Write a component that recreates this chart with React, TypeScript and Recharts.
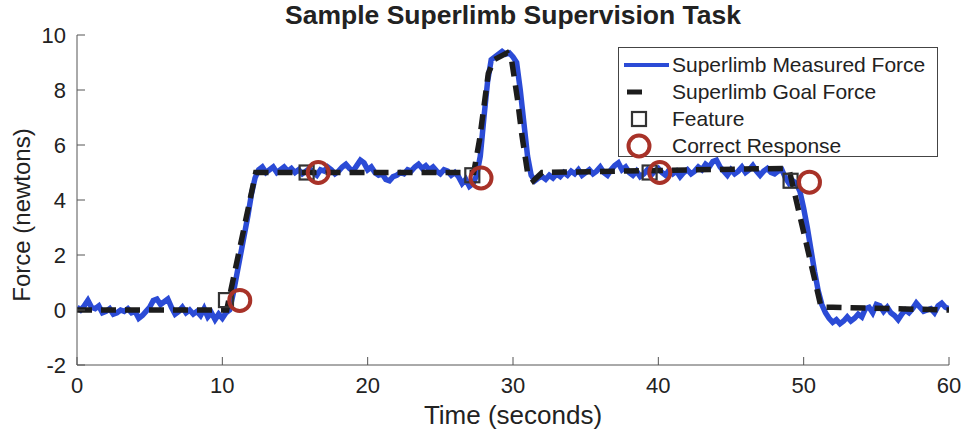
import { ComposedChart, Line, Scatter, XAxis, YAxis, Legend } from 'recharts'

const SAMPLE_STEP = 0.25
const measuredForce = [
  0.1, 0.0, 0.15, 0.35, 0.1, 0.05, 0.15, -0.1, -0.05, 0.05,
  -0.15, -0.1, 0.0, -0.05, 0.05, -0.1, -0.05, -0.3, -0.2, -0.05,
  0.1, 0.35, 0.4, 0.2, 0.3, 0.4, 0.1, -0.15, -0.05, 0.1,
  -0.1, 0.0, -0.15, -0.05, -0.2, 0.05, -0.25, -0.1, -0.35, -0.15,
  -0.3,
  -0.1, 0.0, 0.6, 1.3, 2.0, 2.7, 3.4, 4.2, 4.8, 5.1,
  5.2, 5.0, 5.1, 5.2, 5.0, 5.1, 5.2, 5.05, 5.15, 5.0,
  5.1, 4.95, 5.05, 5.15, 5.0, 4.9, 5.1, 5.05, 5.2, 5.1,
  4.95, 5.05, 5.2, 5.3, 5.15, 5.05, 5.25, 5.45, 5.35, 5.1,
  5.2, 5.0, 4.9, 4.95, 4.75, 4.7, 4.85, 4.9, 5.0, 4.95,
  5.1, 5.05, 5.2, 5.3, 5.15, 5.25, 5.1, 5.2, 5.05, 4.95,
  5.1, 5.05, 4.9, 5.0, 4.85, 4.6, 4.75, 4.5, 4.6, 4.9,
  5.6, 7.0, 8.3, 9.1, 9.2, 9.3, 9.4, 9.3, 9.35, 9.2,
  9.0, 8.0, 6.8, 5.6, 4.9, 4.7, 4.8,
  4.85, 4.75, 4.9, 4.8, 4.95, 4.85, 5.0, 4.9, 5.05, 4.95,
  5.1, 4.9, 5.0, 5.1, 4.95, 5.05, 5.2, 5.0, 4.9, 5.1,
  5.25, 5.35, 5.1, 5.2, 5.0, 4.9, 5.05, 4.85, 4.95, 5.1,
  4.9, 5.05, 5.15, 5.0, 4.9, 5.1, 4.95, 5.05, 4.85, 5.0,
  5.1, 4.95, 5.05, 5.2, 5.1, 5.3, 5.2, 5.4, 5.45, 5.2,
  5.05, 4.9, 5.1, 4.95, 5.05, 5.2, 5.0, 5.1, 5.25, 5.05,
  4.9, 5.05, 5.15, 5.0, 4.95, 5.05, 5.1, 4.8, 4.6,
  4.7, 4.6, 4.3, 3.7, 3.0, 2.2, 1.4, 0.7, 0.2, -0.1,
  -0.3, -0.45, -0.35, -0.5, -0.4, -0.25, -0.4, -0.3, -0.15, -0.25,
  0.05, 0.1, -0.1, 0.2, 0.15, -0.05, 0.1, -0.1, -0.2, -0.35,
  -0.15, 0.0, -0.1, 0.05, 0.25, 0.1, -0.05, 0.0, 0.05, -0.1,
  0.15, 0.25, 0.1, 0.05,
]

const goalTimes = [0, 10.3, 12.3, 27.3, 27.7, 28.0, 28.3, 28.7, 29.6, 29.9, 30.3, 30.6, 31.0, 31.4, 32.0, 48.6, 49.0, 51.2, 52.0, 60]
const goalForce = [0, 0, 5, 5, 6.2, 7.4, 8.6, 9.1, 9.35, 9.1, 7.7, 6.4, 5.0, 4.7, 5, 5.15, 5.1, 0.1, 0.1, 0]

const featureTimes = [10.25, 15.8, 27.2, 39.4, 49.1]
const featureForce = [0.36, 5.0, 4.9, 5.0, 4.7]

const responseTimes = [11.2, 16.6, 27.8, 40.1, 50.4]
const responseForce = [0.35, 5.0, 4.8, 5.0, 4.65]

const xTicks = [0, 10, 20, 30, 40, 50, 60]
const yTicks = [-2, 0, 2, 4, 6, 8, 10]

const BLUE = '#2b4bd6'
const GOAL = '#1c1c1c'
const RED = '#a83228'
const AXIS = '#555'
const FONT = '"Liberation Sans", Arial, sans-serif'

const measuredData = measuredForce.map((v, i) => ({ t: i * SAMPLE_STEP, v }))
const goalData = goalTimes.map((t, i) => ({ t, v: goalForce[i] }))
const featureData = featureTimes.map((t, i) => ({ t, v: featureForce[i] }))
const responseData = responseTimes.map((t, i) => ({ t, v: responseForce[i] }))

const SquareMark = (p: any) => (
  <rect x={p.cx - 7} y={p.cy - 7} width={14} height={14} fill="none" stroke="#333" strokeWidth={2.2} />
)
const CircleMark = (p: any) => (
  <circle cx={p.cx} cy={p.cy} r={10.5} fill="none" stroke={RED} strokeWidth={4} />
)

function LegendBox() {
  const row = { display: 'flex', alignItems: 'center', height: 27 }
  return (
    <div style={{ border: '1px solid #444', background: '#fff', width: 320, height: 110, boxSizing: 'border-box',
      padding: '3px 0 0 4px', fontFamily: FONT, fontSize: 21, color: '#222', lineHeight: 1 }}>
      <div style={row}>
        <svg width={48} height={20}><line x1={1} x2={46} y1={10} y2={10} stroke={BLUE} strokeWidth={4} /></svg>
        <span style={{ marginLeft: 1 }}>Superlimb Measured Force</span>
      </div>
      <div style={row}>
        <svg width={48} height={20}><line x1={4} x2={19} y1={10} y2={10} stroke={GOAL} strokeWidth={5} /></svg>
        <span style={{ marginLeft: 1 }}>Superlimb Goal Force</span>
      </div>
      <div style={row}>
        <svg width={48} height={20}><rect x={9} y={3} width={14} height={14} fill="none" stroke="#333" strokeWidth={2.2} /></svg>
        <span style={{ marginLeft: 1 }}>Feature</span>
      </div>
      <div style={row}>
        <svg width={48} height={26}><circle cx={16} cy={13} r={10.5} fill="none" stroke={RED} strokeWidth={4} /></svg>
        <span style={{ marginLeft: 1 }}>Correct Response</span>
      </div>
    </div>
  )
}

export default function App() {
  return (
    <div style={{ position: 'absolute', left: 0, top: 0, width: 966, height: 438, background: '#fff', fontFamily: FONT }}>
      <div style={{ position: 'absolute', left: 285, top: 0, fontSize: 26.5, fontWeight: 'bold', color: '#222', whiteSpace: 'nowrap' }}>
        Sample Superlimb Supervision Task
      </div>
      <div style={{ position: 'absolute', left: 22, top: 215, fontSize: 24, color: '#222', whiteSpace: 'nowrap',
        transform: 'translate(-50%, -50%) rotate(-90deg)' }}>
        Force (newtons)
      </div>
      <div style={{ position: 'absolute', left: 0, width: 1026, top: 400, fontSize: 26, color: '#222', textAlign: 'center' }}>
        Time (seconds)
      </div>
      <ComposedChart width={966} height={438} margin={{ top: 35, right: 17, bottom: 43, left: 37 }}>
        <XAxis dataKey="t" type="number" domain={[0, 60]} ticks={xTicks} allowDataOverflow
          height={30} stroke={AXIS} tickSize={-8} tickMargin={20}
          tick={{ fontSize: 22, fill: '#222', fontFamily: FONT }} />
        <YAxis type="number" domain={[-2, 10]} ticks={yTicks} allowDataOverflow
          width={40} stroke={AXIS} tickSize={-8} tickMargin={19}
          tick={{ fontSize: 22, fill: '#222', fontFamily: FONT }} />
        <Legend layout="horizontal" align="center" verticalAlign="middle" content={() => <LegendBox />}
          wrapperStyle={{ position: 'absolute', left: 618, top: 47, width: 320 }} />
        <Line data={measuredData} dataKey="v" type="linear" stroke={BLUE} strokeWidth={5.5} dot={false}
          isAnimationActive={false} name="Superlimb Measured Force" />
        <Line data={goalData} dataKey="v" type="linear" stroke={GOAL} strokeWidth={5.5} strokeDasharray="15 9"
          dot={false} isAnimationActive={false} name="Superlimb Goal Force" />
        <Scatter data={featureData} dataKey="v" shape={SquareMark} isAnimationActive={false} name="Feature" />
        <Scatter data={responseData} dataKey="v" shape={CircleMark} isAnimationActive={false} name="Correct Response" />
      </ComposedChart>
    </div>
  )
}
